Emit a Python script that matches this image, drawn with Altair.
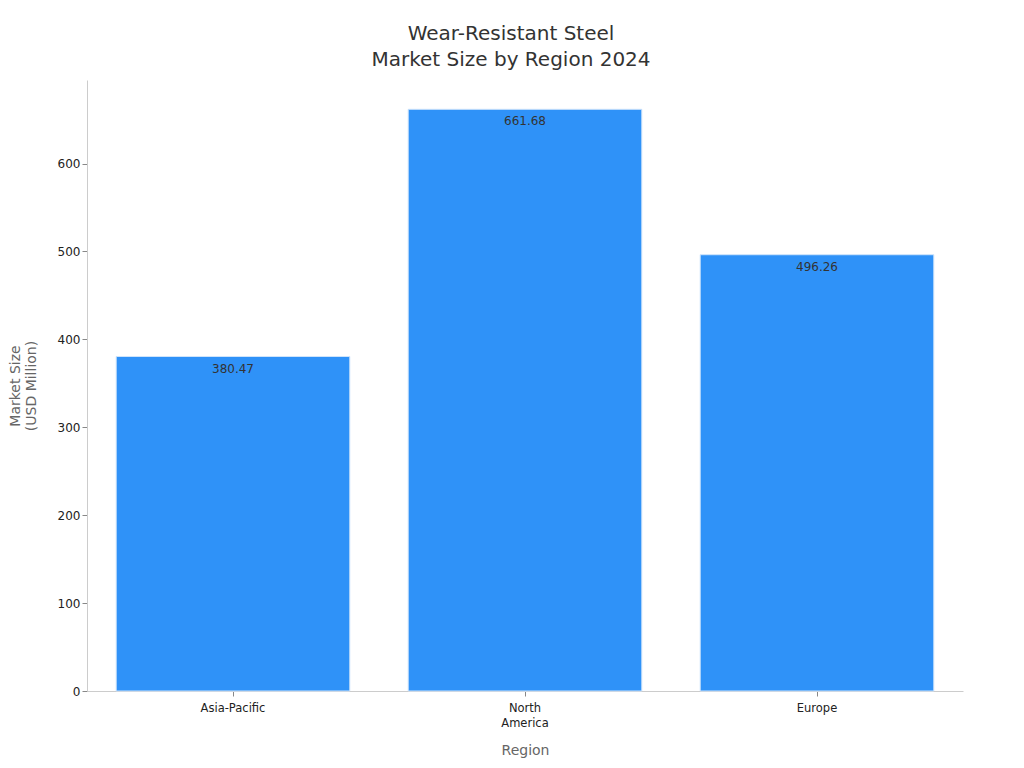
import altair as alt
import pandas as pd

regions = ["Asia-Pacific", "North America", "Europe"]
market_size = [380.47, 661.68, 496.26]

df = pd.DataFrame({"Region": regions, "Value": market_size})

FONT = "DejaVu Sans"

x = alt.X(
    "Region:N",
    sort=regions,
    scale=alt.Scale(paddingInner=0.2, paddingOuter=0.1),
    axis=alt.Axis(
        title="Region",
        labelAngle=0,
        labelExpr="split(datum.label, ' ')",
        labelFontSize=11.5,
        labelColor="#222222",
        titleFontSize=14,
        titleColor="#666666",
        titleFontWeight="normal",
        titlePadding=15,
        domainColor="#cccccc",
        tickColor="#888888",
        labelPadding=6,
        labelLineHeight=15,
    ),
)

y = alt.Y(
    "Value:Q",
    scale=alt.Scale(domain=[0, 695], nice=False),
    axis=alt.Axis(
        title=["Market Size", "(USD Million)"],
        values=[0, 100, 200, 300, 400, 500, 600],
        grid=False,
        labelFontSize=12,
        labelColor="#222222",
        titleFontSize=14,
        titleColor="#666666",
        titleFontWeight="normal",
        titlePadding=19,
        domainColor="#cccccc",
        tickColor="#888888",
    ),
)

bars = alt.Chart(df).mark_bar(
    color="#2F92F8", stroke="#cfe4fb", strokeWidth=1
).encode(x=x, y=y)

labels = alt.Chart(df).mark_text(
    baseline="top", dy=7, fontSize=12, color="#333333", font=FONT
).encode(
    x=alt.X("Region:N", sort=regions),
    y=alt.Y("Value:Q"),
    text=alt.Text("Value:Q", format=".2f"),
)

chart = (
    alt.layer(bars, labels)
    .properties(
        width=876,
        height=611,
        padding={"top": 16, "left": 0, "right": 5, "bottom": 5},
        title=alt.Title(
            ["Wear-Resistant Steel", "Market Size by Region 2024"],
            fontSize=20,
            fontWeight="normal",
            color="#333333",
            anchor="middle",
            dx=-14,
            offset=10,
            lineHeight=26,
        ),
    )
    .configure(font=FONT)
    .configure_view(stroke=None)
)

chart.save("out.html", embed_options={"renderer": "svg", "actions": False})
